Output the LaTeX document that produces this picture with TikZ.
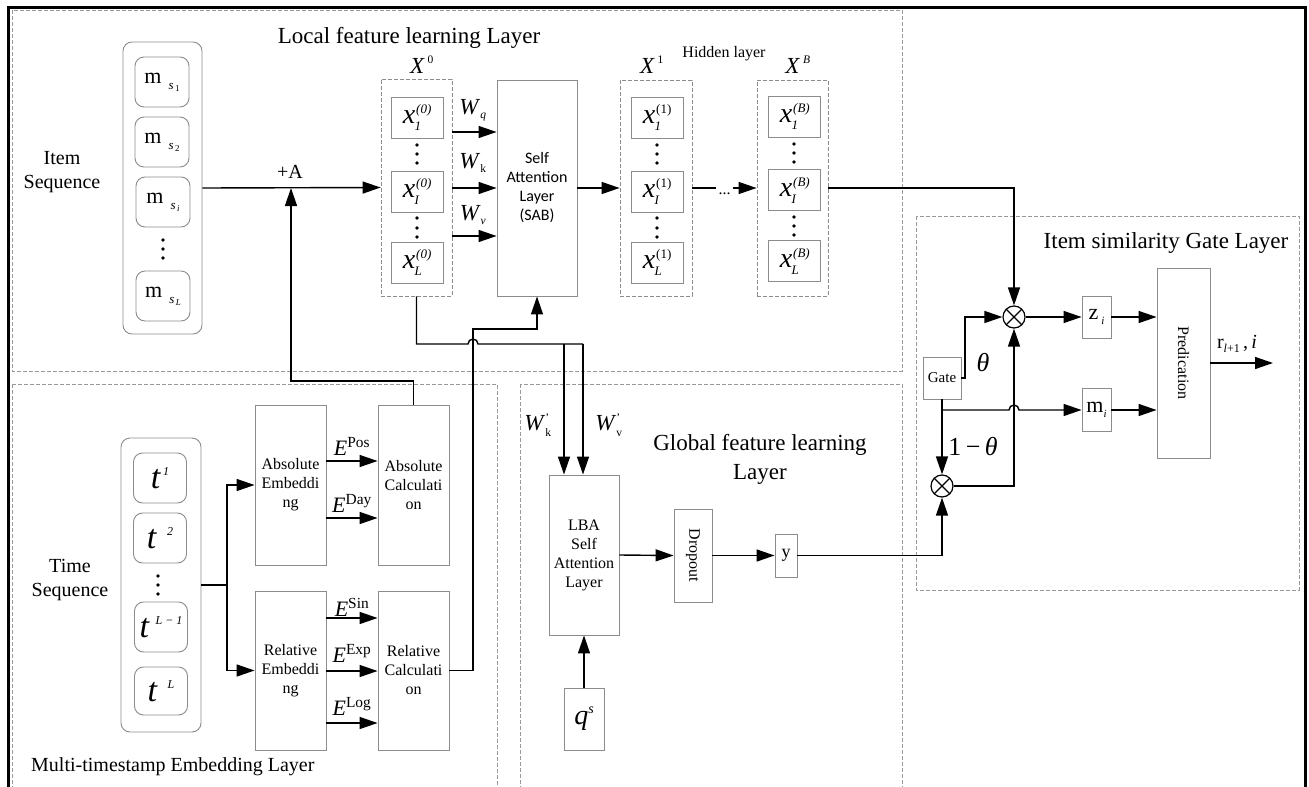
\documentclass[tikz,border=0pt]{standalone}
\usepackage{fontspec}
\usepackage{amsmath}
\setmainfont{Liberation Serif}
\newfontfamily\calib{Carlito}
\usetikzlibrary{arrows.meta}
\newcommand\fs[2]{\fontsize{#1}{#2}\selectfont}
\newcommand\xe[2]{{\fs{28}{28}\textit{x}}\hspace{1pt}\makebox[15pt][l]{\fs{13}{13}\itshape\rlap{\raisebox{10pt}{#1}}\raisebox{-7pt}{\hspace{-1.5pt}#2}}}
\newcommand\ms[1]{{\fs{22}{22}m}\hspace{7pt}\raisebox{-6pt}{\fs{13}{13}\textit{s}\hspace{1.5pt}\raisebox{-2pt}{\fs{9}{9}#1}}}
\newcommand\tstamp[2]{{\fs{34}{34}\textit{t}}\hspace{#1}\raisebox{13pt}{\fs{12}{12}\textit{#2}}}
\newcommand\Ee[1]{{\fs{22}{22}\textit{E}$^{\scriptstyle\text{#1}}$}}
\newcommand\vd[4]{\fill (#1,#2) circle (1.9pt) (#1,#3) circle (1.9pt) (#1,#4) circle (1.9pt);}
\tikzset{
  gbox/.style={draw=black!45, line width=0.9pt, fill=white, inner sep=0pt, align=center},
  rbox/.style={gbox, rounded corners=9pt},
  dbox/.style={draw=black!45, dash pattern=on 4pt off 2pt, line width=0.8pt, inner sep=0pt},
  panel/.style={draw=black!40, dash pattern=on 4pt off 2pt, line width=0.8pt},
  conn/.style={line width=1.4pt},
  arr/.style={conn, -{Triangle[length=18pt,width=12pt]}},
  lbl/.style={inner sep=0pt, align=center},
  otimes/.style={circle, draw, line width=1.2pt, minimum size=22pt, inner sep=0pt,
    path picture={\draw[line width=1.2pt] (path picture bounding box.north west)--(path picture bounding box.south east)
      (path picture bounding box.south west)--(path picture bounding box.north east);}},
}
\begin{document}
\begin{tikzpicture}[x=1pt,y=-1pt]
\useasboundingbox (0,0) rectangle (1309,787);
% outer frame and panels
\draw[line width=3pt] (8,795) -- (8,7) -- (1305,7) -- (1305,795);
\draw[panel] (12,10) rectangle (902,371);
\draw[panel] (12,384) rectangle (497,795);
\draw[panel] (520,384) rectangle (902,795);
\draw[panel] (916,216) rectangle (1299,590);

% titles
\node[lbl, anchor=base, font=\fs{23}{23}] (tloc) at (409,43) {Local feature learning Layer};
\node[lbl, anchor=base, font=\fs{16}{16}] (thid) at (724,57) {Hidden layer};
\node[lbl, anchor=base, font=\fs{23}{23}] (tgate) at (1166,248) {Item similarity Gate Layer};
\node[lbl, font=\fs{23}{29}] (tglob) at (760,459) {Global feature learning\\Layer};
\node[lbl, anchor=base west, font=\fs{20}{20}] (tmulti) at (31,771) {Multi-timestamp Embedding Layer};
\node[lbl, font=\fs{20}{24}] (titem) at (62,172) {Item\\Sequence};
\node[lbl, font=\fs{20}{24}] (ttime) at (70,580) {Time\\Sequence};

% item sequence
\node[rbox, minimum width=79pt, minimum height=292pt] (iseq) at (162.5,188) {};
\node[rbox, minimum width=54pt, minimum height=50pt] (ms1) at (162,82) {\ms{1}};
\node[rbox, minimum width=54pt, minimum height=50pt] (ms2) at (162,142) {\ms{2}};
\node[rbox, minimum width=54pt, minimum height=50pt] (msi) at (163,202) {\ms{\textit{i}}};
\node[rbox, minimum width=54pt, minimum height=50pt] (msL) at (163,296) {\ms{\textit{L}}};
\vd{163}{240}{249}{258}

% X0
\node[dbox, minimum width=71pt, minimum height=217pt] (x0) at (416.5,187.5) {};
\node[gbox, minimum width=52pt, minimum height=41pt] (x01) at (417,117.5) {\xe{(0)}{1}};
\node[gbox, minimum width=52pt, minimum height=41pt] (x0I) at (417,191.5) {\xe{(0)}{I}};
\node[gbox, minimum width=52pt, minimum height=41pt] (x0L) at (417,262.5) {\xe{(0)}{L}};
\vd{417}{145}{154}{163}
\vd{417}{218}{228}{237}
\node[lbl, anchor=base, font=\fs{23}{23}] (lx0) at (422,73) {\textit{X}$^{\,\scriptscriptstyle\text{0}}$};

% SAB
\node[gbox, minimum width=80pt, minimum height=216pt, font=\calib\fs{16}{19}] (sab) at (537,188) {Self\\Attention\\Layer\\(SAB)};

% X1
\node[dbox, minimum width=72pt, minimum height=216pt] (x1) at (656,188) {};
\node[gbox, minimum width=52pt, minimum height=41pt] (x11) at (657,117.5) {\xe{\upshape(1)}{1}};
\node[gbox, minimum width=52pt, minimum height=41pt] (x1I) at (657,191.5) {\xe{\upshape(1)}{I}};
\node[gbox, minimum width=52pt, minimum height=41pt] (x1L) at (657,262.5) {\xe{\upshape(1)}{L}};
\vd{657}{145}{154}{163}
\vd{657}{218}{228}{237}
\node[lbl, anchor=base, font=\fs{23}{23}] (lx1) at (652,73) {\textit{X}$^{\,\scriptscriptstyle\text{1}}$};

% XB
\node[dbox, minimum width=71pt, minimum height=216pt] (xB) at (792.5,188) {};
\node[gbox, minimum width=52pt, minimum height=41pt] (xB1) at (794,116.5) {\xe{(B)}{1}};
\node[gbox, minimum width=52pt, minimum height=41pt] (xBI) at (794,190) {\xe{(B)}{I}};
\node[gbox, minimum width=52pt, minimum height=41pt] (xBL) at (794,261) {\xe{(B)}{L}};
\vd{794}{144}{153}{162}
\vd{794}{217}{226}{235}
\node[lbl, anchor=base, font=\fs{23}{23}] (lxB) at (798,73) {\textit{X}$^{\,\scriptscriptstyle\textit{B}}$};

% local connectors
\draw[arr] (iseq.east) -- (x0.west);
\node[lbl, anchor=base, font=\fs{20}{20}] (plusA) at (290,178) {+A};
\coordinate (pa) at (291,188);
\draw[arr] (x0.east |- 0,132) -- (sab.west |- 0,132);
\draw[arr] (x0.east |- 0,188) -- (sab.west |- 0,188);
\draw[arr] (x0.east |- 0,236) -- (sab.west |- 0,236);
\node[lbl, font=\fs{23}{23}] (wq) at (473,110) {\textit{W}$_{\scriptscriptstyle\textit{q}}$};
\node[lbl, font=\fs{23}{23}] (wk) at (473,163) {\textit{W}$_{\scriptscriptstyle\text{k}}$};
\node[lbl, font=\fs{23}{23}] (wv) at (473,215) {\textit{W}$_{\scriptscriptstyle\textit{v}}$};
\draw[arr] (sab.east) -- (x1.west);
\coordinate (d1) at (716,188);
\coordinate (d2) at (733,188);
\draw[conn] (x1.east) -- (d1);
\node[lbl, anchor=base, font=\fs{16}{16}] (dots) at (724.5,194) {...};
\draw[arr] (d2) -- (xB.west);

% gate layer
\node[otimes] (otop) at (1014,317) {};
\node[otimes] (obot) at (942,486) {};
\node[gbox, minimum width=38pt, minimum height=42pt, font=\fs{15}{15}] (gate) at (942,378) {Gate};
\node[gbox, minimum width=29pt, minimum height=42pt] (zi) at (1096.5,317) {\fs{22}{22}z\hspace{3pt}\raisebox{-5pt}{\fs{11}{11}\textit{i}}};
\node[gbox, minimum width=29pt, minimum height=43pt] (mi) at (1096.5,410) {\fs{22}{22}m\raisebox{-5pt}{\fs{11}{11}\textit{i}}};
\node[gbox, minimum width=53pt, minimum height=190pt, font=\fs{16}{16}] (pred) at (1183.5,363) {\rotatebox{-90}{Predication}};
\coordinate (rout) at (1273,363);
\coordinate (gj) at (942,410);
\coordinate (hopb) at (1009,410);
\draw[arr] (xB.east) -| (otop.north);
\draw[arr] (gate.east) -- (965,378) |- (otop.west);
\draw[arr] (gate.south) -- (obot.north);
\draw[arr] (gj) -- (hopb) arc[start angle=180, end angle=360, radius=5] -- (mi.west);
\draw[arr] (obot.east) -| (otop.south);
\draw[arr] (otop.east) -- (zi.west);
\draw[arr] (zi.east) -- (zi.east -| pred.west);
\draw[arr] (mi.east) -- (mi.east -| pred.west);
\draw[arr] (pred.east) -- (rout);
\node[lbl, font=\fs{26}{26}] (th) at (983,363) {\textit{θ}};
\node[lbl, font=\fs{26}{26}] (th2) at (973,447) {1\,−\,\textit{θ}};
\node[lbl, anchor=base, font=\fs{20}{20}] (rlab) at (1237,348) {r\raisebox{-4pt}{\fs{12}{12}\textit{l}+1}\,,\,\textit{i}};

% multi-timestamp
\node[rbox, minimum width=80pt, minimum height=294pt] (tseq) at (161,585) {};
\node[rbox, minimum width=53pt, minimum height=50pt] (t1) at (160,478) {\tstamp{2pt}{1}};
\node[rbox, minimum width=53pt, minimum height=50pt] (t2) at (160,538) {\tstamp{10pt}{2}};
\node[rbox, minimum width=53pt, minimum height=50pt] (tL1) at (161,627) {\tstamp{6pt}{L − 1}};
\node[rbox, minimum width=53pt, minimum height=48pt] (tL) at (161,691) {\tstamp{10pt}{L}};
\vd{158}{576}{585}{594}
\node[gbox, minimum width=71pt, minimum height=160pt, font=\fs{16}{19}] (absemb) at (290.5,485) {Absolute\\Embeddi\\ng};
\node[gbox, minimum width=71pt, minimum height=160pt, font=\fs{16}{19}] (abscalc) at (413.5,485) {Absolute\\Calculati\\on};
\node[gbox, minimum width=71pt, minimum height=159pt, font=\fs{16}{19}] (relemb) at (290.5,670.5) {Relative\\Embeddi\\ng};
\node[gbox, minimum width=71pt, minimum height=159pt, font=\fs{16}{19}] (relcalc) at (413.5,670.5) {Relative\\Calculati\\on};
\coordinate (tj) at (227,585);
\draw[conn] (tseq.east) -- (tj);
\draw[arr] (tj) |- (absemb.west);
\draw[arr] (tj) |- (relemb.west);
\draw[arr] (absemb.east |- 0,461) -- (abscalc.west |- 0,461);
\draw[arr] (absemb.east |- 0,518) -- (abscalc.west |- 0,518);
\draw[arr] (relemb.east |- 0,618) -- (relcalc.west |- 0,618);
\draw[arr] (relemb.east |- 0,671) -- (relcalc.west |- 0,671);
\draw[arr] (relemb.east |- 0,723) -- (relcalc.west |- 0,723);
\node[lbl, anchor=base] (epos) at (352,455) {\Ee{Pos}};
\node[lbl, anchor=base] (eday) at (352,512) {\Ee{Day}};
\node[lbl, anchor=base] (esin) at (352,616) {\Ee{Sin}};
\node[lbl, anchor=base] (eexp) at (352,662) {\Ee{Exp}};
\node[lbl, anchor=base] (elog) at (352,715) {\Ee{Log}};
\draw[arr] (abscalc.north) |- (291,381) -- (pa);

% global
\node[gbox, minimum width=70pt, minimum height=160pt, font=\fs{16}{19}] (lba) at (584,555) {LBA\\Self\\Attention\\Layer};
\node[gbox, minimum width=38pt, minimum height=93pt, font=\fs{16}{16}] (drop) at (693,555.5) {\rotatebox{-90}{Dropout}};
\node[gbox, minimum width=22pt, minimum height=43pt, font=\fs{18}{18}] (ybox) at (786,555.5) {y};
\node[gbox, minimum width=40pt, minimum height=62pt] (qs) at (584,719) {\fs{28}{28}\textit{q}\raisebox{11pt}{\fs{14}{14}\textit{s}}};
\draw[arr] (lba.east) -- (drop.west);
\draw[arr] (drop.east) -- (ybox.west);
\draw[arr] (qs.north) -- (lba.south);
\draw[arr] (ybox.east) -| (obot.south);
\node[lbl, font=\fs{23}{23}] (wk2) at (538,425) {\textit{W}$^{\scriptscriptstyle\text{'}}_{\scriptscriptstyle\text{k}}$};
\node[lbl, font=\fs{23}{23}] (wv2) at (609,425) {\textit{W}$^{\scriptscriptstyle\text{'}}_{\scriptscriptstyle\text{v}}$};

% cross connectors
\coordinate (k1) at (564,344);
\coordinate (v1) at (583,344);
\coordinate (hopa) at (468,344);
\draw[conn] (x0.south) |- (hopa) arc[start angle=180, end angle=360, radius=5] -- (v1);
\draw[arr] (k1) -- (k1 |- lba.north);
\draw[arr] (v1) -- (v1 |- lba.north);
\draw[arr] (relcalc.east) -| (473,329) -| (sab.south);
\end{tikzpicture}
\end{document}
